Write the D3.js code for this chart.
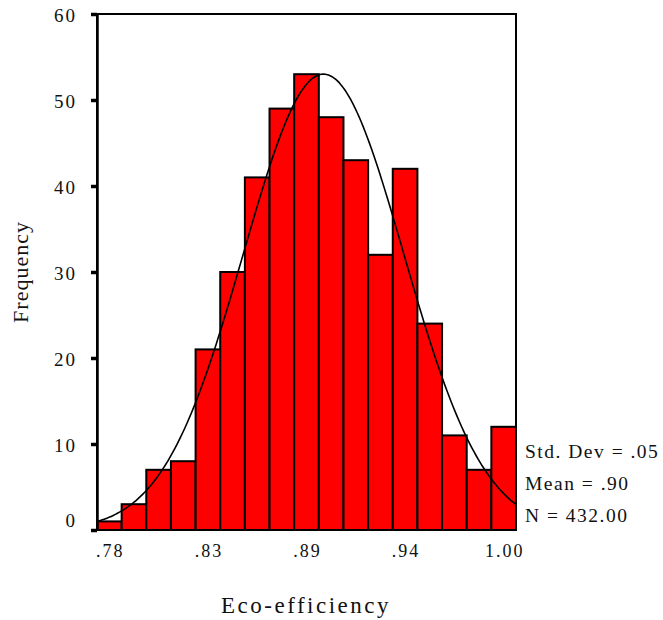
<!DOCTYPE html>
<html lang="en">
<head>
    <meta charset="UTF-8">
    <script src="https://d3js.org/d3.v7.min.js"></script>
    <title>Eco-efficiency histogram</title>
    <style>
        body { margin: 0; background: #fff; }
        text { font-family: "Liberation Serif", "Times New Roman", serif; fill: #111; }
    </style>
</head>
<body>
    <div id="chart"></div>

    <script>
        // bin centres and counts
        const binCenters = [0.78, 0.79375, 0.8075, 0.82125, 0.835, 0.84875, 0.8625, 0.87625, 0.89,
            0.90375, 0.9175, 0.93125, 0.945, 0.95875, 0.9725, 0.98625, 1.00];
        const frequencies = [1, 3, 7, 8, 21, 30, 41, 49, 53, 48, 43, 32, 42, 24, 11, 7, 12];
        const xTickValues = [0.78, 0.835, 0.89, 0.945, 1.00];
        const xTickLabels = [".78", ".83", ".89", ".94", "1.00"];
        const yTickValues = [0, 10, 20, 30, 40, 50, 60];
        const statLabels = ["Std. Dev = .05", "Mean = .90", "N = 432.00"];

        // summary stats behind the fitted normal curve
        const binWidth = 0.01375;
        const meanValue = 0.8995;
        const sdValue = 0.0447;
        const nValue = 432;

        const width = 663, height = 620;
        const plot = { left: 97, right: 516, top: 14, bottom: 530 };

        const svg = d3.select("#chart").append("svg")
            .attr("width", width)
            .attr("height", height);

        const x = d3.scaleLinear()
            .domain([binCenters[0] - binWidth / 2, binCenters[binCenters.length - 1] + binWidth / 2])
            .range([plot.left, plot.right]);

        const y = d3.scaleLinear()
            .domain([0, 60])
            .range([plot.bottom, plot.top]);

        // bars
        svg.selectAll("rect.bar")
            .data(binCenters)
            .join("rect")
            .attr("class", "bar")
            .attr("x", d => x(d - binWidth / 2))
            .attr("width", d => x(d + binWidth / 2) - x(d - binWidth / 2))
            .attr("y", (d, i) => y(frequencies[i]))
            .attr("height", (d, i) => y(0) - y(frequencies[i]))
            .attr("fill", "#ff0000")
            .attr("stroke", "#000")
            .attr("stroke-width", 2);

        // fitted normal curve
        const curvePts = d3.range(0, 201).map(k => {
            const v = x.domain()[0] + (x.domain()[1] - x.domain()[0]) * k / 200;
            const z = (v - meanValue) / sdValue;
            const f = nValue * binWidth / (sdValue * Math.sqrt(2 * Math.PI)) * Math.exp(-0.5 * z * z);
            return [v, f];
        });

        svg.append("path")
            .datum(curvePts)
            .attr("fill", "none")
            .attr("stroke", "#000")
            .attr("stroke-width", 1.6)
            .attr("d", d3.line().x(d => x(d[0])).y(d => y(d[1])).curve(d3.curveBasis));

        // frame
        svg.append("rect")
            .attr("x", plot.left)
            .attr("y", plot.top)
            .attr("width", plot.right - plot.left)
            .attr("height", plot.bottom - plot.top)
            .attr("fill", "none")
            .attr("stroke", "#000")
            .attr("stroke-width", 2);

        // y axis
        const yAxis = svg.append("g")
            .attr("transform", `translate(${plot.left},0)`)
            .call(d3.axisLeft(y).tickValues(yTickValues).tickSize(6).tickSizeOuter(0).tickPadding(14));
        yAxis.select(".domain").attr("stroke", "#000").attr("stroke-width", 2.5);
        yAxis.selectAll(".tick line").attr("stroke", "#000").attr("stroke-width", 3.5);
        yAxis.selectAll(".tick text")
            .attr("font-size", 19)
            .attr("font-family", "Liberation Serif, serif")
            .attr("letter-spacing", 2)
            .attr("dy", d => d === 0 ? "-0.2em" : "0.4em");

        // x tick labels (no tick marks in the original)
        svg.selectAll("text.xtick")
            .data(xTickValues)
            .join("text")
            .attr("class", "xtick")
            .attr("x", d => x(d) + 1)
            .attr("y", plot.bottom + 27)
            .attr("text-anchor", "middle")
            .attr("font-size", 18)
            .attr("letter-spacing", 2)
            .text((d, i) => xTickLabels[i]);

        // axis titles
        svg.append("text")
            .attr("transform", "translate(28,272) rotate(-90)")
            .attr("text-anchor", "middle")
            .attr("font-size", 22)
            .attr("letter-spacing", 1)
            .text("Frequency");

        svg.append("text")
            .attr("x", 306)
            .attr("y", 613)
            .attr("text-anchor", "middle")
            .attr("font-size", 23)
            .attr("letter-spacing", 2.5)
            .text("Eco-efficiency");

        // stats box text
        svg.selectAll("text.stat")
            .data(statLabels)
            .join("text")
            .attr("class", "stat")
            .attr("x", 525)
            .attr("y", (d, i) => [458, 490, 522][i])
            .attr("font-size", 19.5)
            .attr("letter-spacing", 1.5)
            .text(d => d);
    </script>
</body>
</html>
